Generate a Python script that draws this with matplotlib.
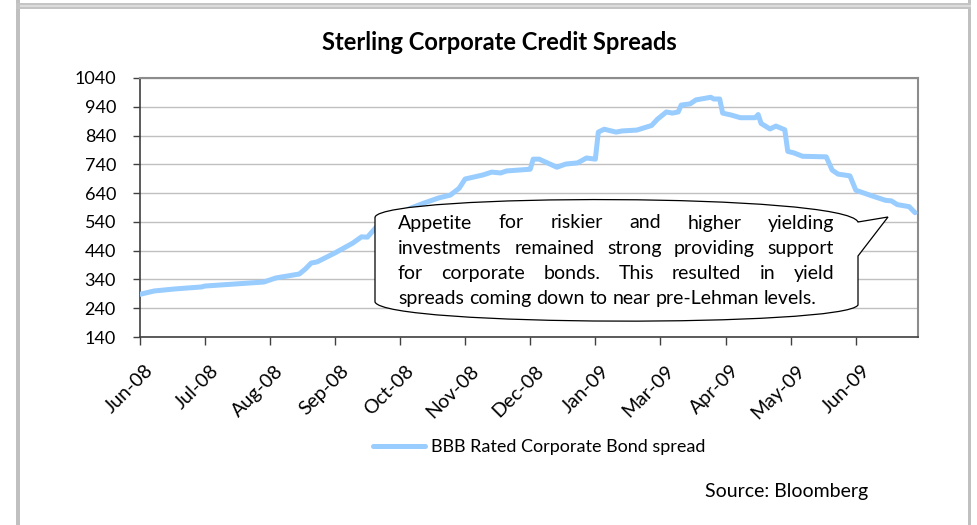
import numpy as np
import matplotlib
matplotlib.use("Agg")
import matplotlib.pyplot as plt
import matplotlib.transforms as mtransforms
from matplotlib.path import Path
from matplotlib.patches import PathPatch, Rectangle

W, H = 977, 525
FONT = "Lato"

# trading-day index vs BBB spread (bp)
days = [0, 5, 12, 21, 22, 32, 42, 46, 54, 56, 58, 60, 66, 69, 72, 75, 77, 80,
        85, 91, 96, 101, 105, 108, 110, 116, 119, 122, 124, 132, 133, 135, 141,
        144, 148, 151, 154, 155, 157, 161, 163, 168, 173, 175, 178, 180, 182,
        183, 186, 188, 193, 194, 196, 197, 200, 203, 208, 209, 210, 213, 215,
        218, 219, 221, 224, 232, 234, 236, 240, 242, 247, 252, 254, 256, 260, 262]
spread = [288, 300, 307, 314, 317, 324, 331, 345, 359, 376, 397, 401, 432, 449,
          466, 488, 487, 522, 555, 585, 605, 623, 633, 657, 689, 703, 713, 710,
          717, 723, 758, 758, 730, 741, 745, 762, 758, 852, 862, 852, 856, 859,
          875, 897, 922, 918, 922, 946, 950, 964, 973, 967, 967, 918, 911, 902,
          902, 913, 882, 863, 873, 860, 785, 780, 768, 766, 720, 706, 700, 650,
          632, 615, 613, 600, 593, 572]

tick_days = [0, 22, 44, 66, 88, 110, 132, 154, 176, 198, 220, 242]
tick_labels = ["Jun-08", "Jul-08", "Aug-08", "Sep-08", "Oct-08", "Nov-08",
               "Dec-08", "Jan-09", "Mar-09", "Apr-09", "May-09", "Jun-09"]
y_ticks = list(range(140, 1041, 100))

series_name = "BBB Rated Corporate Bond spread"
title = "Sterling Corporate Credit Spreads"
note_lines = ["Appetite for riskier and higher yielding",
              "investments remained strong providing support",
              "for corporate bonds. This resulted in yield",
              "spreads coming down to near pre-Lehman levels."]

plt.rcParams["font.family"] = [FONT, "DejaVu Sans"]

fig = plt.figure(figsize=(W / 100, H / 100), dpi=100)
# image pixel coords (origin top-left) -> display coords
px = mtransforms.Affine2D().scale(1, -1).translate(0, H)

# page frame
fig.patches.append(Rectangle((16, 0), 4, H, transform=px, color="#c0c0c0", lw=0))
fig.patches.append(Rectangle((968, 0), 3, H, transform=px, color="#c0c0c0", lw=0))
fig.patches.append(Rectangle((16, 3), 955, 6, transform=px, color="#c4c4c4", lw=0))
fig.patches.append(Rectangle((20, 5), 951, 2, transform=px, color="#dcdcdc", lw=0))

ax = fig.add_axes([139.5 / W, 1 - 337 / H, (918 - 139.5) / W, (337 - 78) / H])
ax.plot(days, spread, color="#99ccff", lw=3.6, solid_capstyle="round",
        solid_joinstyle="round", label=series_name, zorder=3)

ax.set_xlim(0, 263)
ax.set_ylim(140, 1040)
ax.set_yticks(y_ticks)
ax.set_xticks(tick_days)
ax.set_xticklabels(tick_labels, rotation=45, ha="right", va="top",
                   rotation_mode="anchor")
ax.yaxis.grid(True, color="#c0c0c0", lw=1)
ax.set_axisbelow(True)
ax.tick_params(axis="y", length=5, width=1, color="#404040", pad=12, labelsize=13)
ax.tick_params(axis="x", length=6, width=1, color="#404040", pad=12, labelsize=14)
offset = mtransforms.ScaledTranslation(5 / 100, 0, fig.dpi_scale_trans)
for lbl in ax.get_xticklabels():
    lbl.set_transform(lbl.get_transform() + offset)
for side in ["top", "right"]:
    ax.spines[side].set_color("#8c8c8c")
    ax.spines[side].set_linewidth(1.5)
for side in ["left", "bottom"]:
    ax.spines[side].set_color("#404040")
    ax.spines[side].set_linewidth(1.2)

fig.text(499, 42, title, transform=px, ha="center", va="center",
         fontsize=17, fontweight="bold")

leg = fig.legend(loc="center", bbox_to_anchor=(539 / W, 1 - 447 / H),
                 frameon=False, fontsize=13, handlelength=2.9,
                 handletextpad=0.3)
fig.text(705, 492, "Source: Bloomberg", transform=px, ha="left", va="center",
         fontsize=14)

# speech-bubble callout
verts = [(375, 217), (375, 302),
         (385, 327), (845, 327), (858, 305),
         (858, 256), (888, 217), (858, 222),
         (845, 193), (385, 193), (375, 217)]
codes = [Path.MOVETO, Path.LINETO,
         Path.CURVE4, Path.CURVE4, Path.CURVE4,
         Path.LINETO, Path.LINETO, Path.LINETO,
         Path.CURVE4, Path.CURVE4, Path.CURVE4]
fig.patches.append(PathPatch(Path(verts, codes), transform=px, fc="white",
                             ec="black", lw=0.9, zorder=5))

renderer = fig.canvas.get_renderer()
note_size = 14
x0, x1 = 398, 834
sp = fig.text(0, 0, "a a", fontsize=note_size)
sp2 = fig.text(0, 0, "aa", fontsize=note_size)
space = sp.get_window_extent(renderer).width - sp2.get_window_extent(renderer).width
sp.remove()
sp2.remove()
for i, line in enumerate(note_lines):
    y = 223 + i * 25.2
    words = line.split()
    texts = [fig.text(0, y, w, transform=px, ha="left", va="center",
                      fontsize=note_size, zorder=6) for w in words]
    widths = [t.get_window_extent(renderer).width for t in texts]
    gap = space
    if i < len(note_lines) - 1:
        gap = max((x1 - x0 - sum(widths)) / (len(words) - 1), 0.6 * space)
    x = x0
    for t, w in zip(texts, widths):
        t.set_position((x, y))
        x += w + gap

fig.savefig("out.png", dpi=100)
